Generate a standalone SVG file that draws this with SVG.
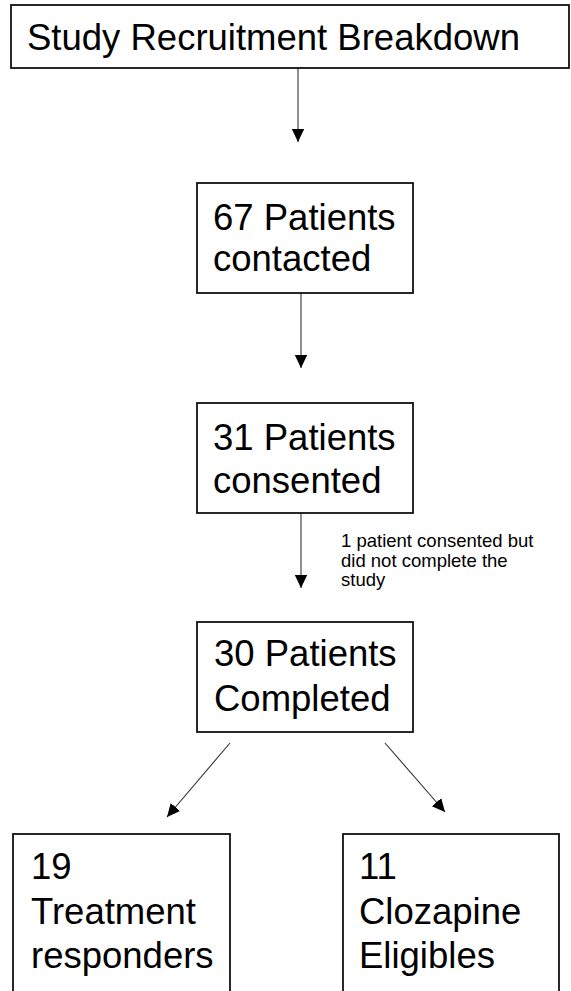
<svg xmlns="http://www.w3.org/2000/svg" width="571" height="991" viewBox="0 0 571 991">
<style>
  .box { fill: #ffffff; stroke: #111111; stroke-width: 1.8; }
  .big { font-family: "Liberation Sans", Arial, sans-serif; font-size: 36.5px; fill: #000000; }
  .small { font-family: "Liberation Sans", Arial, sans-serif; font-size: 18.5px; fill: #000000; }
  .conn { stroke: #333333; stroke-width: 1.1; fill: none; marker-end: url(#arrow); }
</style>
<defs>
  <marker id="arrow" markerUnits="userSpaceOnUse" markerWidth="14" markerHeight="14" viewBox="0 0 14 14" refX="13" refY="7" orient="auto">
    <path d="M0,0.8 L13,7 L0,13.2 Z" fill="#000000"/>
  </marker>
</defs>
<rect width="571" height="991" fill="#ffffff"/>

<g id="connectors">
  <line class="conn" x1="298" y1="68" x2="298" y2="142"/>
  <line class="conn" x1="301" y1="293" x2="301" y2="368"/>
  <line class="conn" x1="301" y1="513" x2="301" y2="588"/>
  <line class="conn" x1="230" y1="743" x2="167" y2="817"/>
  <line class="conn" x1="385" y1="743" x2="445" y2="812"/>
  <text class="small" x="341" y="547">1 patient consented but</text>
  <text class="small" x="341" y="566.5">did not complete the</text>
  <text class="small" x="341" y="586">study</text>
</g>

<g id="title">
  <rect class="box" x="11" y="5" width="558" height="63"/>
  <text class="big" x="27" y="50">Study Recruitment Breakdown</text>
</g>

<g id="contacted">
  <rect class="box" x="197" y="183" width="216" height="110"/>
  <text class="big" x="213" y="230">67 Patients</text>
  <text class="big" x="213" y="271">contacted</text>
</g>

<g id="consented">
  <rect class="box" x="197" y="403" width="216" height="110"/>
  <text class="big" x="213" y="450">31 Patients</text>
  <text class="big" x="213" y="493">consented</text>
</g>

<g id="completed">
  <rect class="box" x="197" y="622" width="216" height="110"/>
  <text class="big" x="214" y="666">30 Patients</text>
  <text class="big" x="214" y="711">Completed</text>
</g>

<g id="responders">
  <rect class="box" x="13" y="834" width="217" height="175"/>
  <text class="big" x="31" y="879">19</text>
  <text class="big" x="31" y="924">Treatment</text>
  <text class="big" x="31" y="968">responders</text>
</g>

<g id="clozapine">
  <rect class="box" x="343" y="834" width="216" height="175"/>
  <text class="big" x="359" y="879">11</text>
  <text class="big" x="359" y="924">Clozapine</text>
  <text class="big" x="359" y="968">Eligibles</text>
</g>
</svg>
